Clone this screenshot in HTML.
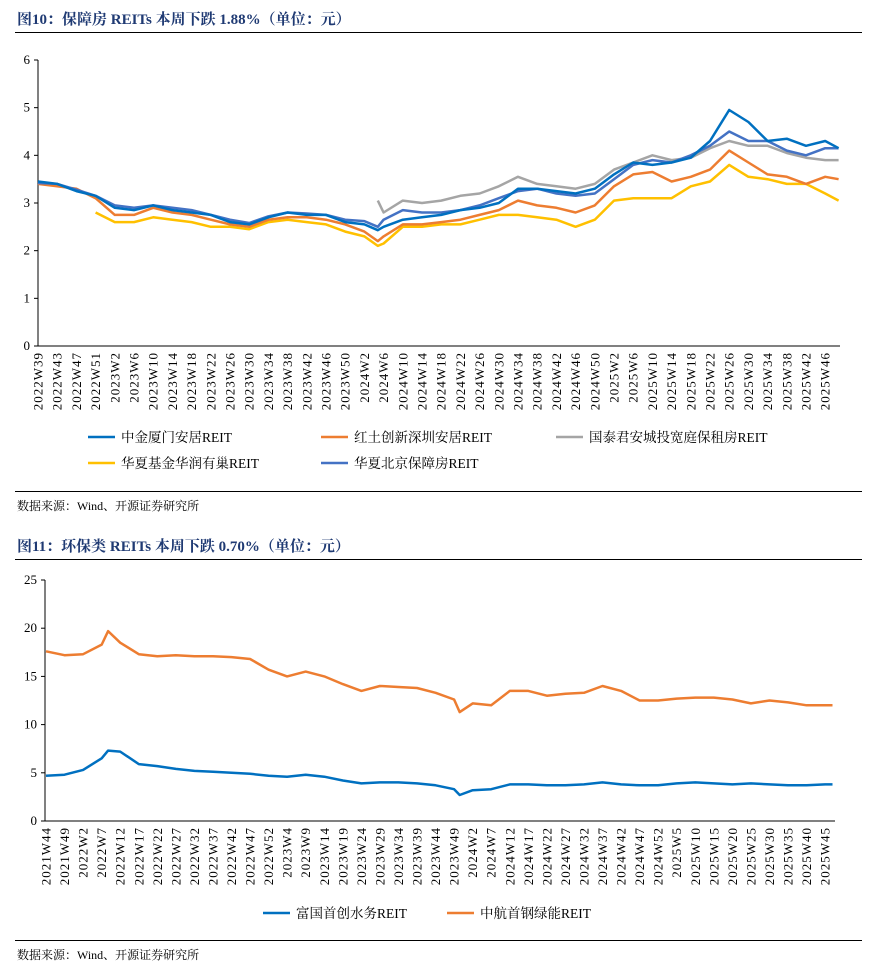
<!DOCTYPE html>
<html><head><meta charset="utf-8">
<style>
body{margin:0;background:#fff;width:876px;height:967px;overflow:hidden;font-family:"Liberation Serif","Noto Serif CJK SC",serif;}
.t{position:absolute;left:17px;font-weight:bold;font-size:15px;color:#1f3a73;}
.hr{position:absolute;left:15px;width:847px;height:1px;background:#000;}
.src{position:absolute;left:17px;font-size:12px;color:#000;}
svg{position:absolute;left:0;top:0;}
text{font-family:"Liberation Serif","Noto Serif CJK SC",serif;}
</style></head><body>
<div class="t" style="top:8px">图10：保障房 REITs 本周下跌 1.88%（单位：元）</div>
<div class="hr" style="top:32px"></div>
<div class="hr" style="top:491px"></div>
<div class="src" style="top:497px">数据来源：Wind、开源证券研究所</div>
<div class="t" style="top:535px">图11：环保类 REITs 本周下跌 0.70%（单位：元）</div>
<div class="hr" style="top:559px"></div>
<div class="hr" style="top:940px"></div>
<div class="src" style="top:946px">数据来源：Wind、开源证券研究所</div>
<svg id="svg" width="876" height="967"></svg>
<script>
// ---- Chart 1 data ----
const c1Labels=["2022W39","2022W43","2022W47","2022W51","2023W2","2023W6","2023W10","2023W14","2023W18","2023W22","2023W26","2023W30","2023W34","2023W38","2023W42","2023W46","2023W50","2024W2","2024W6","2024W10","2024W14","2024W18","2024W22","2024W26","2024W30","2024W34","2024W38","2024W42","2024W46","2024W50","2025W2","2025W6","2025W10","2025W14","2025W18","2025W22","2025W26","2025W30","2025W34","2025W38","2025W42","2025W46"];
const c1Idx=[0,1,2,3,4,5,6,7,8,9,10,11,12,13,14,15,16,17,17.7,18,19,20,21,22,23,24,25,26,27,28,29,30,31,32,33,34,35,36,37,38,39,40,41,41.7];
const c1Ticks=[0,1,2,3,4,5,6];
const s1Zjxm=[3.45,3.4,3.25,3.15,2.9,2.85,2.95,2.85,2.8,2.75,2.6,2.55,2.7,2.8,2.75,2.75,2.6,2.55,2.43,2.5,2.65,2.7,2.75,2.85,2.9,3.0,3.3,3.3,3.25,3.2,3.3,3.6,3.85,3.8,3.85,3.95,4.3,4.95,4.7,4.3,4.35,4.2,4.3,4.15];
const s1Htsz=[3.4,3.35,3.3,3.1,2.75,2.75,2.9,2.8,2.75,2.65,2.55,2.5,2.65,2.7,2.7,2.65,2.55,2.4,2.2,2.3,2.55,2.55,2.6,2.65,2.75,2.85,3.05,2.95,2.9,2.8,2.95,3.35,3.6,3.65,3.45,3.55,3.7,4.1,3.85,3.6,3.55,3.4,3.55,3.5];
const s1Gtjt=[null,null,null,null,null,null,null,null,null,null,null,null,null,null,null,null,null,null,3.05,2.8,3.05,3.0,3.05,3.15,3.2,3.35,3.55,3.4,3.35,3.3,3.4,3.7,3.85,4.0,3.9,3.95,4.15,4.3,4.2,4.2,4.05,3.95,3.9,3.9];
const s1Hxhr=[null,null,null,2.8,2.6,2.6,2.7,2.65,2.6,2.5,2.5,2.45,2.6,2.65,2.6,2.55,2.4,2.3,2.1,2.15,2.5,2.5,2.55,2.55,2.65,2.75,2.75,2.7,2.65,2.5,2.65,3.05,3.1,3.1,3.1,3.35,3.45,3.8,3.55,3.5,3.4,3.4,3.2,3.05];
const s1Hxbj=[3.42,3.4,3.28,3.15,2.95,2.9,2.95,2.9,2.85,2.75,2.65,2.58,2.72,2.8,2.78,2.75,2.65,2.62,2.5,2.65,2.85,2.8,2.8,2.85,2.95,3.1,3.25,3.3,3.2,3.15,3.2,3.5,3.8,3.9,3.85,4.0,4.2,4.5,4.3,4.3,4.1,4.0,4.15,4.15];
// ---- Chart 2 data ----
const c2Labels=["2021W44","2021W49","2022W2","2022W7","2022W12","2022W17","2022W22","2022W27","2022W32","2022W37","2022W42","2022W47","2022W52","2023W4","2023W9","2023W14","2023W19","2023W24","2023W29","2023W34","2023W39","2023W44","2023W49","2024W2","2024W7","2024W12","2024W17","2024W22","2024W27","2024W32","2024W37","2024W42","2024W47","2024W52","2025W5","2025W10","2025W15","2025W20","2025W25","2025W30","2025W35","2025W40","2025W45"];
const c2Idx=[0,1,2,3,3.35,4,5,6,7,8,9,10,11,12,13,14,15,16,17,18,19,20,21,22,22.3,23,24,25,26,27,28,29,30,31,32,33,34,35,36,37,38,39,40,41,42,42.4];
const c2Ticks=[0,5,10,15,20,25];
const s2Fgsw=[4.7,4.8,5.3,6.5,7.3,7.2,5.9,5.7,5.4,5.2,5.1,5.0,4.9,4.7,4.6,4.8,4.6,4.2,3.9,4.0,4.0,3.9,3.7,3.3,2.7,3.2,3.3,3.8,3.8,3.7,3.7,3.8,4.0,3.8,3.7,3.7,3.9,4.0,3.9,3.8,3.9,3.8,3.7,3.7,3.8,3.8];
const s2Zhsg=[17.6,17.2,17.3,18.3,19.7,18.5,17.3,17.1,17.2,17.1,17.1,17.0,16.8,15.7,15.0,15.5,15.0,14.2,13.5,14.0,13.9,13.8,13.3,12.6,11.3,12.2,12.0,13.5,13.5,13.0,13.2,13.3,14.0,13.5,12.5,12.5,12.7,12.8,12.8,12.6,12.2,12.5,12.3,12.0,12.0,12.0];

const svg=document.getElementById('svg');
const NS='http://www.w3.org/2000/svg';
function mk(tag,attrs,parent){const e=document.createElementNS(NS,tag);for(const k in attrs)e.setAttribute(k,attrs[k]);(parent||svg).appendChild(e);return e;}

function drawChart(cfg){
  const g=mk('g',{});
  
  
  const xs=i=>cfg.x0+i*cfg.dx;
  const ys=v=>cfg.yb-(v-cfg.ymin)/(cfg.ymax-cfg.ymin)*(cfg.yb-cfg.yt);
  cfg.ticks.forEach(t=>{
    const tx=mk('text',{x:cfg.ax-8,y:ys(t)+4,'text-anchor':'end','font-size':13},g);
    tx.textContent=t;
    
    
    const tk=mk('line',{x1:cfg.ax-4,x2:cfg.ax,y1:ys(t),y2:ys(t),stroke:'#000'},g);
    
    
  });
  const ya=mk('line',{x1:cfg.ax,x2:cfg.ax,y1:cfg.yt,y2:cfg.yb,stroke:'#000'},g);
  
  
  const xa=mk('line',{x1:cfg.ax,x2:cfg.xe,y1:cfg.yb,y2:cfg.yb,stroke:'#000'},g);
  
  
  cfg.labels.forEach((l,i)=>{
    const x=xs(i),y=cfg.yb+6;
    const tx=mk('text',{x:x,y:y,'text-anchor':'end','font-size':13,'letter-spacing':1,transform:`rotate(-90 ${x} ${y}) translate(0 4.5)`},g);
    tx.textContent=l;
    
    
  });
  cfg.series.forEach(s=>{
    let d='',pen=false;
    s.data.forEach((v,k)=>{
      if(v===null){pen=false;return;}
      d+=(pen?'L':'M')+xs(cfg.idx[k]).toFixed(1)+' '+ys(v).toFixed(1)+' ';pen=true;
    });
    const p=mk('path',{d:d,fill:'none',stroke:s.color,'stroke-width':2.5,'stroke-linejoin':'round'},g);
    
    
  });
  cfg.legend.forEach(L=>{
    const s=cfg.series.find(q=>q.key===L.key);
    const lg=mk('g',{},g);
    
    
    mk('line',{x1:L.x,x2:L.x+27,y1:L.y,y2:L.y,stroke:s.color,'stroke-width':2.5},lg);
    const tx=mk('text',{x:L.x+33,y:L.y+5,'font-size':13.5},lg);
    tx.textContent=s.label;
  });
}
drawChart({name:'housing-reits-chart',x0:38,dx:19.2,ax:38,xe:840,yt:60,yb:346,ymin:0,ymax:6,ticks:c1Ticks,labels:c1Labels,idx:c1Idx,
  series:[
   {key:'gtjt',label:'国泰君安城投宽庭保租房REIT',color:'#A5A5A5',data:s1Gtjt},
   {key:'hxhr',label:'华夏基金华润有巢REIT',color:'#FFC000',data:s1Hxhr},
   {key:'htsz',label:'红土创新深圳安居REIT',color:'#ED7D31',data:s1Htsz},
   {key:'hxbj',label:'华夏北京保障房REIT',color:'#4472C4',data:s1Hxbj},
   {key:'zjxm',label:'中金厦门安居REIT',color:'#0070C0',data:s1Zjxm}],
  legend:[{key:'zjxm',x:88,y:437},{key:'htsz',x:321,y:437},{key:'gtjt',x:556,y:437},{key:'hxhr',x:88,y:463},{key:'hxbj',x:321,y:463}]
});
drawChart({name:'environmental-reits-chart',x0:46,dx:18.55,ax:45,xe:835,yt:580,yb:821,ymin:0,ymax:25,ticks:c2Ticks,labels:c2Labels,idx:c2Idx,
  series:[
   {key:'fgsw',label:'富国首创水务REIT',color:'#0070C0',data:s2Fgsw},
   {key:'zhsg',label:'中航首钢绿能REIT',color:'#ED7D31',data:s2Zhsg}],
  legend:[{key:'fgsw',x:263,y:913},{key:'zhsg',x:447,y:913}]
});
</script>
</body></html>
